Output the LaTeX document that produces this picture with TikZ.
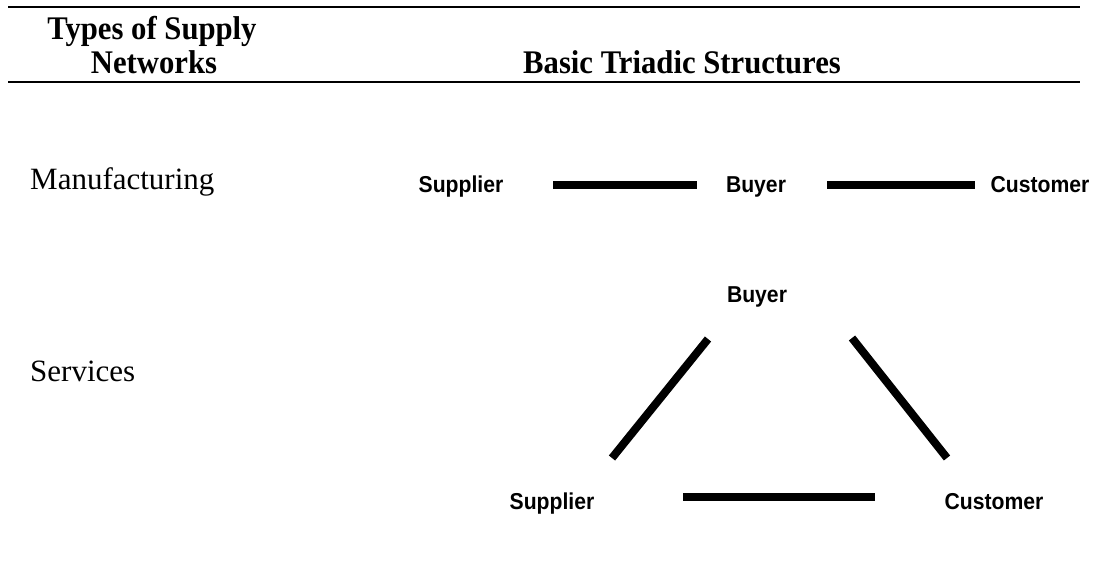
\documentclass[tikz,border=0pt]{standalone}
\usepackage{fontspec}
\setmainfont{Liberation Serif}
\newfontfamily\arialf{Liberation Sans}
\newcommand{\hsq}[1]{\scalebox{0.93}[1]{#1}}
\newcommand{\psq}[1]{\scalebox{0.92}[1]{#1}}
\begin{document}
\begin{tikzpicture}[x=1pt,y=-1pt,
  hdr/.style={font=\fontsize{33}{36}\selectfont\bfseries, inner sep=0pt},
  rowlbl/.style={font=\fontsize{31}{34}\selectfont, inner sep=0pt, anchor=base west},
  party/.style={font=\arialf\bfseries\fontsize{23}{26}\selectfont, inner sep=0pt, anchor=base},
  rule/.style={line width=2.5pt},
  tie/.style={line width=8pt}]
\useasboundingbox (0,0) rectangle (1094,560);
% header rules
\coordinate (r1a) at (8,7);  \coordinate (r1b) at (1080,7);
\coordinate (r2a) at (8,82); \coordinate (r2b) at (1080,82);
\draw[rule] (r1a) -- (r1b);
\draw[rule] (r2a) -- (r2b);
% headers
\node[hdr, anchor=base] (h1) at (152,39) {\hsq{Types of Supply}};
\node[hdr, anchor=base] (h2) at (154,73) {\hsq{Networks}};
\node[hdr, anchor=base west] (h3) at (523,73) {\hsq{Basic Triadic Structures}};
% row labels
\node[rowlbl] (man) at (30,189) {Manufacturing};
\node[rowlbl] (ser) at (30,381) {Services};
% manufacturing row
\node[party] (sup1) at (461,192) {\psq{Supplier}};
\node[party] (buy1) at (756,192) {\psq{Buyer}};
\node[party] (cus1) at (1040,192) {\psq{Customer}};
\coordinate (a1) at (553,185); \coordinate (a2) at (697,185);
\coordinate (b1) at (827,185); \coordinate (b2) at (975,185);
\draw[tie] (a1) -- (a2);
\draw[tie] (b1) -- (b2);
% services triangle
\node[party] (buy2) at (757,302) {\psq{Buyer}};
\node[party] (sup2) at (552,509) {\psq{Supplier}};
\node[party] (cus2) at (994,509) {\psq{Customer}};
\coordinate (c1) at (708,339); \coordinate (c2) at (612,458);
\coordinate (d1) at (852,338); \coordinate (d2) at (947,458);
\coordinate (e1) at (683,497); \coordinate (e2) at (875,497);
\draw[tie] (c1) -- (c2);
\draw[tie] (d1) -- (d2);
\draw[tie] (e1) -- (e2);
\end{tikzpicture}
\end{document}
